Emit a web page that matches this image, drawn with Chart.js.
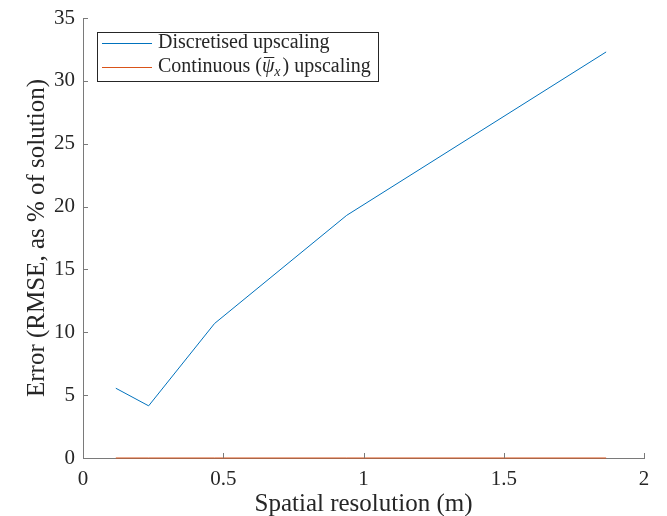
<html>
<head>
<style>
  body { margin: 0; background: #fff; }
  #wrap { width: 667px; height: 516px; }
</style>
</head>
<body>
<div id="wrap">
  <canvas id="myChart" width="667" height="516"></canvas>
</div>

<script src="https://cdn.jsdelivr.net/npm/chart.js"></script>

<script>
  // data
  const resolution = [0.117, 0.234, 0.469, 0.94, 1.865];
  const discretisedError = [5.55, 4.15, 10.7, 19.3, 32.3];
  const continuousError = [0, 0, 0, 0, 0];
  const xTicks = [0, 0.5, 1, 1.5, 2];
  const yTicks = [0, 5, 10, 15, 20, 25, 30, 35];

  const FONT = "'Liberation Serif', 'DejaVu Serif', serif";
  const TEXT = '#262626';
  const AXIS = '#7a7a7a';

  function pts(ys) {
    return resolution.map((x, i) => ({ x: x, y: ys[i] }));
  }

  // inward ticks, like matlab
  const inwardTicks = {
    id: 'inwardTicks',
    afterDatasetsDraw(chart) {
      const c = chart.ctx, a = chart.chartArea;
      const xs = chart.scales.x, ys = chart.scales.y;
      c.save();
      c.strokeStyle = AXIS;
      c.lineWidth = 1;
      c.beginPath();
      xTicks.forEach(v => {
        const px = Math.round(xs.getPixelForValue(v)) + 0.5;
        c.moveTo(px, a.bottom); c.lineTo(px, a.bottom - 5);
      });
      yTicks.forEach(v => {
        const py = Math.round(ys.getPixelForValue(v)) + 0.5;
        c.moveTo(a.left, py); c.lineTo(a.left + 5, py);
      });
      c.stroke();
      c.restore();
    }
  };

  // legend box in the top-left corner
  const boxLegend = {
    id: 'boxLegend',
    afterDraw(chart) {
      const c = chart.ctx;
      const x0 = 97, y0 = 32, w = 281, h = 49;
      c.save();
      c.fillStyle = '#fff';
      c.fillRect(x0, y0, w, h);
      c.strokeStyle = TEXT;
      c.lineWidth = 1;
      c.strokeRect(x0 + 0.5, y0 + 0.5, w, h);
      const rows = [43, 67];
      chart.data.datasets.forEach((ds, i) => {
        const y = rows[i];
        c.strokeStyle = ds.borderColor;
        c.lineWidth = 1;
        c.beginPath();
        c.moveTo(102, y + 0.5); c.lineTo(152, y + 0.5);
        c.stroke();
        c.fillStyle = TEXT;
        c.textBaseline = 'middle';
        c.font = '20px ' + FONT;
        let x = 158;
        if (i === 0) {
          c.fillText(ds.label, x, y);
        } else {
          // "Continuous (psi-bar_x) upscaling"
          const a = 'Continuous (';
          c.fillText(a, x, y); x += c.measureText(a).width;
          c.font = 'italic 20px ' + FONT;
          c.fillText('\u03C8', x, y);
          const pw = c.measureText('\u03C8').width;
          c.fillRect(x + 2, y - 10, pw - 2, 1);
          x += pw;
          c.font = 'italic 14px ' + FONT;
          c.fillText('x', x, y + 5); x += c.measureText('x').width + 2;
          c.font = '20px ' + FONT;
          c.fillText(') upscaling', x, y);
        }
      });
      c.restore();
    }
  };

  const ctx = document.getElementById('myChart');

  chart = new Chart(ctx, {
    type: 'scatter',
    data: {
      datasets: [{
        label: 'Discretised upscaling',
        data: pts(discretisedError),
        showLine: true,
        borderColor: '#0072BD',
        borderWidth: 1,
        pointRadius: 0,
        clip: false
      }, {
        label: 'Continuous (\u03C8\u0304x) upscaling',
        data: pts(continuousError),
        showLine: true,
        borderColor: '#D95319',
        borderWidth: 1,
        pointRadius: 0,
        clip: false
      }]
    },
    options: {
      responsive: false,
      animation: false,
      layout: { padding: { top: 18, right: 23, left: 0, bottom: 0 } },
      plugins: {
        legend: { display: false },
        tooltip: { enabled: false }
      },
      scales: {
        x: {
          type: 'linear',
          min: 0, max: 2,
          afterBuildTicks: s => { s.ticks = xTicks.map(v => ({ value: v })); },
          afterFit: s => { s.height = 58; },
          grid: { display: false },
          border: { display: true, color: AXIS, width: 1 },
          ticks: {
            color: TEXT, font: { family: FONT, size: 21 }, padding: 1, maxRotation: 0,
            callback: v => String(v)
          },
          title: {
            display: true, text: 'Spatial resolution (m)', color: TEXT,
            font: { family: FONT, size: 25, lineHeight: 0.9 }, padding: { top: 0, bottom: 0 }
          }
        },
        y: {
          min: 0, max: 35,
          afterBuildTicks: s => { s.ticks = yTicks.map(v => ({ value: v })); },
          afterFit: s => { s.width = 83; },
          grid: { display: false },
          border: { display: true, color: AXIS, width: 1 },
          ticks: { color: TEXT, font: { family: FONT, size: 21 }, padding: 0 },
          title: {
            display: true, text: 'Error (RMSE, as % of solution)', color: TEXT,
            font: { family: FONT, size: 25 }, padding: { top: 22, bottom: 0 }
          }
        }
      }
    },
    plugins: [inwardTicks, boxLegend]
  });
</script>
</body>
</html>
